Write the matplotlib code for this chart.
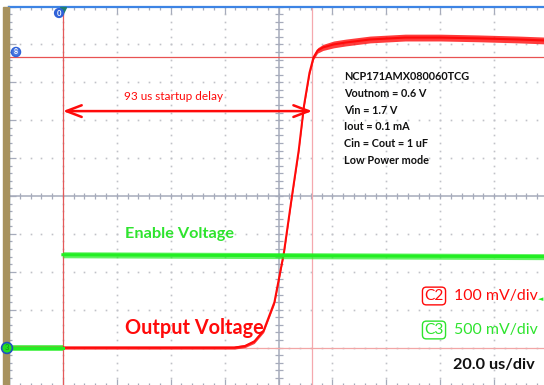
import numpy as np
import matplotlib
matplotlib.use("Agg")
import matplotlib.pyplot as plt
from matplotlib.patches import Rectangle

plt.rcParams["font.family"] = ["Lato", "DejaVu Sans"]

# --- trace data (time in us, voltage in mV) ---
OUT_T = [-20, 63.5, 67.5, 71, 74.5, 78.5, 82, 85, 87.5, 89.5, 91.5, 93, 94.5,
         96.5, 100.5, 105, 114, 127, 140, 154, 169, 180]
OUT_MV = [0, 0, 4, 16, 45, 120, 250, 400, 520, 640, 725, 766, 784,
          792, 800, 805, 813, 818, 818, 816, 813, 810]
OUT_NOISE_MV = [4, 4, 4, 5, 5, 5, 5, 5, 5, 5, 6, 6, 7,
                8, 9, 9, 9, 9, 9, 9, 9, 9]

EN_LOW_T = [-20, 0]
EN_LOW_MV = [0, 0]
EN_HIGH_T = [0, 180]
EN_HIGH_MV = [1225, 1200]
EN_NOISE_MV = 40

# scope settings
TIME_PER_DIV = 20       # us
C2_MV_PER_DIV = 100
C3_MV_PER_DIV = 500
C2_OFFSET_DIV = -4
C3_OFFSET_DIV = -4
T_START = -20
N_DIV_X = 10
N_DIV_Y = 10

CURSOR_T = [0, 92.5]
CURSOR_MV = [767, 0]
DELAY_LABEL = "93 us startup delay"

INFO_LINES = ["NCP171AMX080060TCG", "Voutnom = 0.6 V", "Vin = 1.7 V",
              "Iout = 0.1 mA", "Cin = Cout = 1 uF", "Low Power mode"]

RED = "#ff0a0a"
GREEN = "#22ee22"
GREEN_TXT = "#2ee42e"
GRID = "#c0c2c8"
AXIS = "#a6abbb"
BLUE = "#3d84e4"

W, H = 544, 385


def px(x, y):
    return x / W, 1 - y / H


def c2(mv):
    return np.asarray(mv, dtype=float) / C2_MV_PER_DIV + C2_OFFSET_DIV


def c3(mv):
    return np.asarray(mv, dtype=float) / C3_MV_PER_DIV + C3_OFFSET_DIV


fig = plt.figure(figsize=(W / 100, H / 100), dpi=100)
fig.patches.append(Rectangle((3 / W, 0), 5.5 / W, 1 - 6.5 / H,
                             transform=fig.transFigure, color="#a8925e", zorder=0))

l, b = px(9, 385.5)
r, t = px(548, 6.5)
ax = fig.add_axes([l, b, r - l, t - b])
t_end = T_START + N_DIV_X * TIME_PER_DIV
ax.set_xlim(T_START, t_end)
ax.set_ylim(-N_DIV_Y / 2, N_DIV_Y / 2)

# graticule
xmaj = np.arange(T_START, t_end + 1e-6, TIME_PER_DIV)
xmin = np.arange(T_START, t_end + 1e-6, TIME_PER_DIV / 5)
ymaj = np.arange(-N_DIV_Y / 2, N_DIV_Y / 2 + 1e-6, 1)
ymin = np.arange(-N_DIV_Y / 2, N_DIV_Y / 2 + 1e-6, 0.2)
xc = T_START + N_DIV_X / 2 * TIME_PER_DIV
for xv in xmaj[1:-1]:
    if abs(xv - xc) < 1e-6:
        continue
    ax.plot(np.full_like(ymin, xv), ymin, ls="none", marker="s", ms=1.2,
            mec="none", mfc=GRID, zorder=1)
for yv in ymaj[1:-1]:
    if abs(yv) < 1e-6:
        continue
    ax.plot(xmin, np.full_like(xmin, yv), ls="none", marker="s", ms=1.2,
            mec="none", mfc=GRID, zorder=1)
ax.axvline(xc, color=AXIS, lw=1.1, zorder=1)
ax.axhline(0, color=AXIS, lw=1.1, zorder=1)
ax.plot(xmin, np.zeros_like(xmin), ls="none", marker="|", ms=5, mew=0.9,
        color=AXIS, zorder=1)
ax.plot(np.full_like(ymin, xc), ymin, ls="none", marker="_", ms=6, mew=0.9,
        color=AXIS, zorder=1)

ax.set_xticks(xmaj)
ax.set_xticks(xmin, minor=True)
ax.set_yticks(ymaj)
ax.set_yticks(ymin, minor=True)
ax.tick_params(which="both", direction="in", top=True, bottom=True, left=True,
               right=False, labelbottom=False, labelleft=False, color=AXIS,
               width=0.9)
ax.tick_params(which="major", length=5)
ax.tick_params(which="minor", length=2.4)
for side in ("top", "left"):
    ax.spines[side].set_color(BLUE)
    ax.spines[side].set_linewidth(1.6)
ax.spines["bottom"].set_color("#c8ccd8")
ax.spines["right"].set_visible(False)

# cursors
ax.axvline(CURSOR_T[0], color="#e45a5a", lw=0.9, zorder=2)
ax.axvline(CURSOR_T[1], color="#f5a8ae", lw=0.9, zorder=2)
ax.axhline(c2(CURSOR_MV[0]), color="#e85252", lw=0.9, zorder=2)
ax.axhline(c2(CURSOR_MV[1]), color="#f2a6a6", lw=0.9, zorder=2)

# traces
ot = np.array(OUT_T, float)
om = np.array(OUT_MV, float)
on = np.array(OUT_NOISE_MV, float)
ax.fill_between(ot, c2(om - on), c2(om + on), color=RED, alpha=0.8, lw=0, zorder=3)
ax.plot(ot, c2(om), color=RED, lw=1.5, zorder=4)

for tt, mm in ((EN_LOW_T, EN_LOW_MV), (EN_HIGH_T, EN_HIGH_MV)):
    mm = np.array(mm, float)
    ax.fill_between(tt, c3(mm - EN_NOISE_MV), c3(mm + EN_NOISE_MV), color=GREEN,
                    alpha=0.7, lw=0, zorder=5)
    ax.plot(tt, c3(mm), color=GREEN, lw=2.2, zorder=6)

# startup-delay arrow
ya = 2.24
ax.annotate("", xy=(CURSOR_T[1], ya), xytext=(CURSOR_T[0], ya),
            arrowprops=dict(arrowstyle="<->,head_length=1.1,head_width=0.42",
                            color=RED, lw=1.8, mutation_scale=10,
                            shrinkA=0, shrinkB=0), zorder=7)
fig.text(*px(174, 96), DELAY_LABEL, color=RED, fontsize=8.5,
         ha="center", va="center")

# markers on the screen
ax.plot([CURSOR_T[0]], [N_DIV_Y / 2 - 0.1], marker="v", ms=5, color="#1f7f6f",
        clip_on=False, zorder=8)
fig.text(*px(59, 13), "0", color="white", fontsize=5.5, fontweight="bold",
         ha="center", va="center",
         bbox=dict(boxstyle="circle,pad=0.12", fc="#2f62d8", ec="#2f62d8"))
fig.text(*px(16, 52), "8", color="white", fontsize=5, fontweight="bold",
         ha="center", va="center",
         bbox=dict(boxstyle="circle,pad=0.15", fc="#4a78e0", ec="#2f62d8"))
fig.text(*px(7, 348), "3", color="#1a8a1a", fontsize=5.5, ha="center",
         va="center", zorder=10,
         bbox=dict(boxstyle="circle,pad=0.25", fc="#22e022", ec="#2050c0", lw=1.2))
fig.text(*px(541, 299), "\u25c4", color=GREEN, fontsize=5, ha="center", va="center")

# info block
for i, line in enumerate(INFO_LINES):
    fig.text(*px(344, 77 + i * 16.6), line, color="#111111", fontsize=7.8,
             fontweight="bold", ha="left", va="center")

fig.text(*px(125, 234), "Enable Voltage", color=GREEN_TXT, fontsize=11.7,
         fontweight="bold", ha="left", va="center")
fig.text(*px(125, 328), "Output Voltage", color=RED, fontsize=14.3,
         fontweight="bold", ha="left", va="center")

fig.text(*px(434, 296), "C2", color=RED, fontsize=11.2, ha="center", va="center",
         bbox=dict(boxstyle="round,pad=0.12,rounding_size=0.25", fc="white",
                   ec=RED, lw=1))
fig.text(*px(454, 296), "100 mV/div", color=RED, fontsize=11.4, ha="left",
         va="center")
fig.text(*px(434, 330), "C3", color=GREEN_TXT, fontsize=11.2, ha="center",
         va="center",
         bbox=dict(boxstyle="round,pad=0.12,rounding_size=0.25", fc="white",
                   ec=GREEN_TXT, lw=1))
fig.text(*px(454, 330), "500 mV/div", color=GREEN_TXT, fontsize=11.4, ha="left",
         va="center")
fig.text(*px(453, 365), "20.0 us/div", color="#111111", fontsize=11.7,
         fontweight="bold", ha="left", va="center")

fig.savefig("out.png", dpi=100)
